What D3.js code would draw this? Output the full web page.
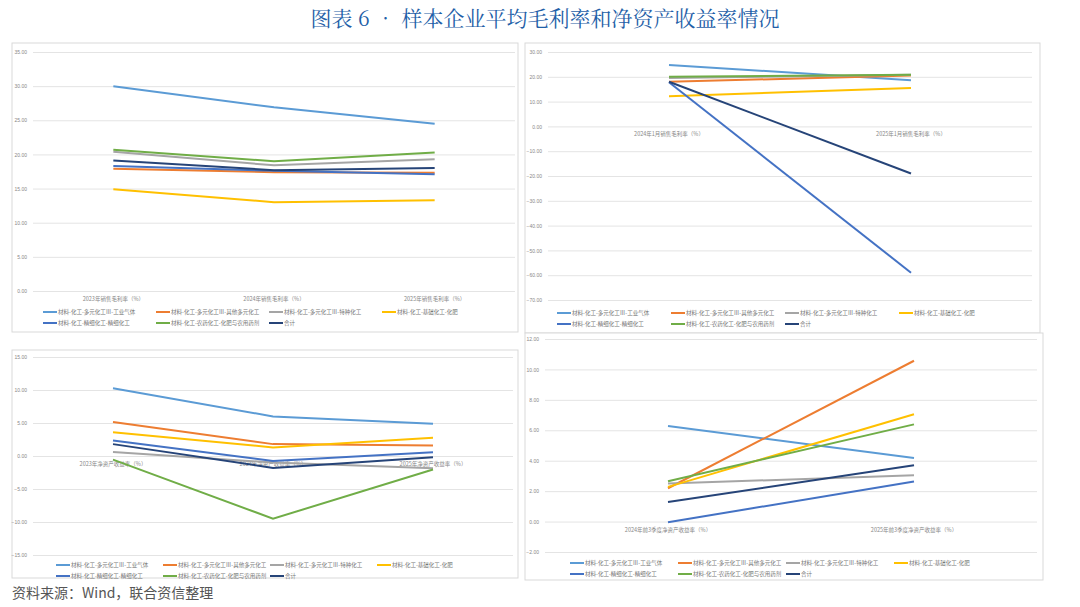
<!DOCTYPE html>
<html><head><meta charset="utf-8">
<script src="https://cdn.jsdelivr.net/npm/d3@7"></script>
<style>body{margin:0;background:#fff;} svg{display:block;}</style>
</head><body>
<svg id="chart" width="1080" height="607"></svg>
<script>
// series names shared by all four panels
var seriesNames = ["材料-化工-多元化工Ⅲ-工业气体", "材料-化工-多元化工Ⅲ-其他多元化工", "材料-化工-多元化工Ⅲ-特种化工",
    "材料-化工-基础化工-化肥", "材料-化工-精细化工-精细化工", "材料-化工-农药化工-化肥与农用药剂", "合计"];
var colors = ["#5b9bd5", "#ed7d31", "#a5a5a5", "#ffc000", "#4472c4", "#70ad47", "#264478"];

var cats1 = ["2023年销售毛利率（%）", "2024年销售毛利率（%）", "2025年销售毛利率（%）"];
var vals1 = [[30.0, 26.9, 24.5], [17.9, 17.4, 17.3], [20.4, 18.4, 19.3], [14.9, 13.0, 13.3],
    [18.3, 17.6, 17.1], [20.7, 19.0, 20.3], [19.1, 17.7, 18.0]];
var ticks1 = [0, 5, 10, 15, 20, 25, 30, 35];

var cats2 = ["2024年1月销售毛利率（%）", "2025年1月销售毛利率（%）"];
var vals2 = [[24.8, 18.6], [18.0, 20.5], [19.5, 20.8], [12.2, 15.5], [17.8, -59.0], [20.0, 20.8], [18.0, -19.0]];
var ticks2 = [-70, -60, -50, -40, -30, -20, -10, 0, 10, 20, 30];

var cats3 = ["2023年净资产收益率（%）", "2024年净资产收益率（%）", "2025年净资产收益率（%）"];
var vals3 = [[10.25, 6.0, 4.9], [5.15, 1.8, 1.6], [0.6, -1.0, -1.85], [3.6, 1.3, 2.75],
    [2.35, -0.75, 0.55], [-0.55, -9.5, -2.05], [1.8, -1.8, -0.2]];
var ticks3 = [-15, -10, -5, 0, 5, 10, 15];

var cats4 = ["2024年前3季度净资产收益率（%）", "2025年前3季度净资产收益率（%）"];
var vals4 = [[6.28, 4.18], [2.19, 10.57], [2.5, 3.04], [2.28, 7.05], [-0.04, 2.63], [2.65, 6.39], [1.29, 3.7]];
var ticks4 = [-2, 0, 2, 4, 6, 8, 10, 12];

var svg = d3.select("#chart");

svg.append("text").attr("x", 545).attr("y", 26).attr("text-anchor", "middle")
    .attr("font-family", "Noto Serif CJK SC, Noto Sans CJK SC").attr("font-size", 21)
    .attr("fill", "#1f5fa8").text("图表 6 • 样本企业平均毛利率和净资产收益率情况");
svg.append("text").attr("x", 12).attr("y", 598)
    .attr("font-family", "Noto Sans CJK SC").attr("font-size", 14)
    .attr("fill", "#555").text("资料来源：Wind，联合资信整理");

function drawPanel(p) {
    var g = svg.append("g");
    g.append("rect").attr("x", p.box[0]).attr("y", p.box[1]).attr("width", p.box[2]).attr("height", p.box[3])
        .attr("fill", "#fff").attr("stroke", "#d9d9d9");
    var y = d3.scaleLinear().domain(d3.extent(p.ticks)).range([p.y1, p.y0]);
    var x = d3.scalePoint().domain(p.cats).range([p.x0, p.x1]).padding(0.5);
    var axis = d3.axisLeft(y).tickValues(p.ticks).tickSize(-(p.x1 - p.x0)).tickFormat(d3.format(".2f"));
    var ag = g.append("g").attr("transform", "translate(" + p.x0 + ",0)").call(axis);
    ag.select(".domain").remove();
    ag.selectAll("line").attr("stroke", "#e4e4e4");
    ag.selectAll("text").attr("fill", "#888").attr("font-size", 5).attr("x", -6);
    g.selectAll(".cat").data(p.cats).enter().append("text")
        .attr("x", function (d) { return x(d); }).attr("y", y(p.catAt) + 10)
        .attr("text-anchor", "middle").attr("font-size", 5.5).attr("fill", "#888")
        .attr("font-family", "Noto Sans CJK SC").text(function (d) { return d; });
    var line = d3.line().x(function (d, i) { return x(p.cats[i]); }).y(function (d) { return y(d); });
    p.vals.forEach(function (v, i) {
        g.append("path").attr("d", line(v)).attr("fill", "none")
            .attr("stroke", colors[i]).attr("stroke-width", 2);
    });
    // legend, 4 on first row, 3 on second
    seriesNames.forEach(function (n, i) {
        var lx = p.legX + (i % 4) * p.legStep, ly = p.legY + Math.floor(i / 4) * 11;
        g.append("line").attr("x1", lx).attr("x2", lx + 14).attr("y1", ly).attr("y2", ly)
            .attr("stroke", colors[i]).attr("stroke-width", 2);
        g.append("text").attr("x", lx + 15).attr("y", ly + 2).attr("font-size", 5.5).attr("fill", "#777")
            .attr("font-family", "Noto Sans CJK SC").text(n);
    });
}

drawPanel({box: [12, 43, 506, 289], x0: 33, x1: 515, y0: 52, y1: 291, ticks: ticks1, cats: cats1, vals: vals1,
    catAt: 0, legX: 43, legY: 312, legStep: 113});
drawPanel({box: [525, 43, 515, 290], x0: 548, x1: 1032, y0: 52, y1: 300, ticks: ticks2, cats: cats2, vals: vals2,
    catAt: 0, legX: 557, legY: 313, legStep: 114});
drawPanel({box: [12, 350, 506, 228], x0: 33, x1: 513, y0: 357, y1: 555, ticks: ticks3, cats: cats3, vals: vals3,
    catAt: 0, legX: 56, legY: 565, legStep: 107});
drawPanel({box: [525, 333, 518, 247], x0: 545, x1: 1037, y0: 339, y1: 552, ticks: ticks4, cats: cats4, vals: vals4,
    catAt: 0, legX: 570, legY: 563, legStep: 108});
</script>
</body></html>
